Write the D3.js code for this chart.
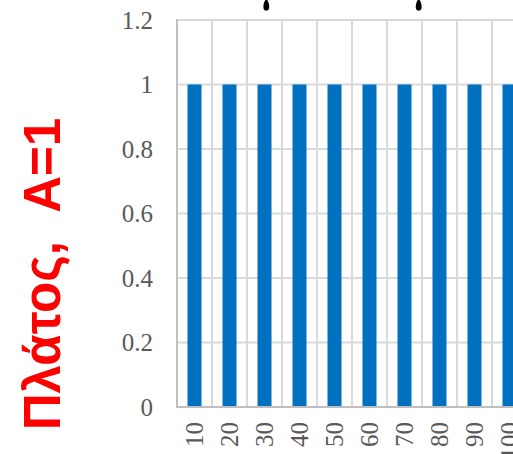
<!DOCTYPE html>
<html>
<head>
<meta charset="utf-8">
<script src="https://cdn.jsdelivr.net/npm/d3@7"></script>
<style>
  html, body { margin: 0; padding: 0; background: #fff; }
  svg { display: block; }
</style>
</head>
<body>
<svg id="chart" width="513" height="454"></svg>
<script>
// Frequencies (x categories) and the amplitude of each bar
const categories = ["10", "20", "30", "40", "50", "60", "70", "80", "90", "100"];
const amplitudes = [1, 1, 1, 1, 1, 1, 1, 1, 1, 1];
const yTickValues = [0, 0.2, 0.4, 0.6, 0.8, 1, 1.2];
const yTickLabels = ["0", "0.2", "0.4", "0.6", "0.8", "1", "1.2"];
const yAxisTitle = "Πλάτος,  A=1";

const svg = d3.select("#chart");
const plotLeft = 177, plotTop = 20, plotBottom = 407, step = 35;

const x = d3.scaleBand()
  .domain(categories)
  .range([plotLeft, plotLeft + step * categories.length])
  .paddingInner(0.6)
  .paddingOuter(0.3);

const y = d3.scaleLinear().domain([0, 1.2]).range([plotBottom, plotTop]);

const gap = (x.step() - x.bandwidth()) / 2;

// horizontal gridlines
svg.append("g").selectAll("line")
  .data(yTickValues.filter(v => v > 0))
  .join("line")
  .attr("x1", plotLeft).attr("x2", x.range()[1])
  .attr("y1", d => y(d)).attr("y2", d => y(d))
  .attr("stroke", "#d9d9d9").attr("stroke-width", 2);

// vertical gridlines at category boundaries
const bounds = categories.map(c => x(c) - gap).concat([x(categories[categories.length - 1]) + x.bandwidth() + gap]);
svg.append("g").selectAll("line")
  .data(bounds.slice(1))
  .join("line")
  .attr("x1", d => d).attr("x2", d => d)
  .attr("y1", plotTop).attr("y2", plotBottom)
  .attr("stroke", "#d9d9d9").attr("stroke-width", 2);

// bars
svg.append("g").selectAll("rect")
  .data(categories.map((c, i) => ({ c, v: amplitudes[i] })))
  .join("rect")
  .attr("x", d => x(d.c))
  .attr("width", x.bandwidth())
  .attr("y", d => y(d.v))
  .attr("height", d => y(0) - y(d.v))
  .attr("fill", "#0070c0");

// axis lines
svg.append("line")
  .attr("x1", plotLeft).attr("x2", plotLeft)
  .attr("y1", plotTop - 1).attr("y2", plotBottom + 1)
  .attr("stroke", "#bfbfbf").attr("stroke-width", 2);
svg.append("line")
  .attr("x1", plotLeft).attr("x2", x.range()[1])
  .attr("y1", plotBottom).attr("y2", plotBottom)
  .attr("stroke", "#bfbfbf").attr("stroke-width", 2);

// y tick labels
svg.append("g").selectAll("text")
  .data(yTickValues)
  .join("text")
  .attr("x", 153)
  .attr("y", d => y(d))
  .attr("dy", "0.34em")
  .attr("text-anchor", "end")
  .attr("font-family", "'Liberation Serif', 'Times New Roman', serif")
  .attr("font-size", 25)
  .attr("fill", "#595959")
  .text((d, i) => yTickLabels[i]);

// x tick labels, rotated
svg.append("g").selectAll("text")
  .data(categories)
  .join("text")
  .attr("transform", d => `translate(${x(d) + x.bandwidth() / 2 + 8.5},${plotBottom + 15}) rotate(-90)`)
  .attr("text-anchor", "end")
  .attr("font-family", "'Liberation Serif', 'Times New Roman', serif")
  .attr("font-size", 25)
  .attr("fill", "#595959")
  .text(d => d);

// y axis title
svg.append("text")
  .attr("transform", `translate(60,274) rotate(-90)`)
  .attr("text-anchor", "middle")
  .attr("font-family", "'Liberation Sans', Arial, sans-serif")
  .attr("font-weight", "bold")
  .attr("font-size", 51)
  .attr("fill", "#ff0000")
  .style("white-space", "pre")
  .text(yAxisTitle);

// tails of the heading glyphs along the top edge
const drops = [266.3, 418.7];
svg.append("g").selectAll("path")
  .data(drops)
  .join("path")
  .attr("d", d => `M${d - 1},0 L${d + 1},0 C${d + 3},3 ${d + 3.3},7 ${d + 2.6},9 C${d + 1.6},11.2 ${d - 1.6},11.2 ${d - 2.6},9 C${d - 3.3},7 ${d - 3},3 ${d - 1},0 Z`)
  .attr("fill", "#000");
</script>
</body>
</html>
